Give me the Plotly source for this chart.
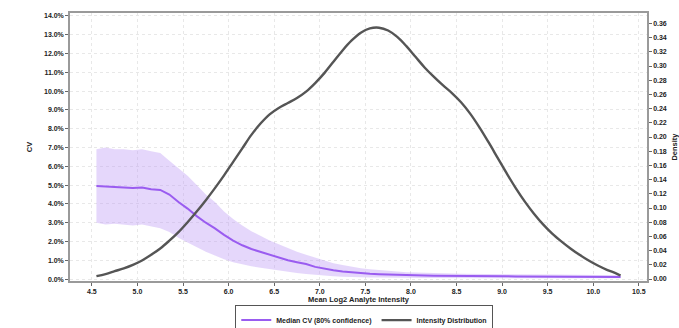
import plotly.graph_objects as go

# Mean log2 analyte intensity (bin centres)
intensity = [4.55, 4.65, 4.75, 4.85, 4.95, 5.05, 5.15, 5.25, 5.35, 5.45,
             5.55, 5.65, 5.75, 5.85, 5.95, 6.05, 6.15, 6.25, 6.35, 6.45,
             6.55, 6.65, 6.75, 6.85, 6.95, 7.05, 7.15, 7.25, 7.35, 7.45,
             7.55, 7.65, 7.75, 7.85, 7.95, 8.05, 8.15, 8.25, 8.35, 8.45,
             8.55, 8.65, 8.75, 8.85, 8.95, 9.05, 9.15, 9.25, 9.35, 9.45,
             9.55, 9.65, 9.75, 9.85, 9.95, 10.05, 10.15, 10.25, 10.30]

# Median CV (%) and its confidence band
cv_median = [4.95, 4.93, 4.90, 4.88, 4.85, 4.87, 4.78, 4.74, 4.50, 4.10,
             3.75, 3.35, 3.00, 2.70, 2.35, 2.05, 1.80, 1.60, 1.45, 1.30,
             1.15, 1.00, 0.90, 0.80, 0.65, 0.55, 0.47, 0.40, 0.35, 0.31,
             0.28, 0.26, 0.24, 0.22, 0.21, 0.20, 0.19, 0.18, 0.18, 0.17,
             0.17, 0.16, 0.16, 0.15, 0.15, 0.15, 0.14, 0.14, 0.14, 0.13,
             0.13, 0.13, 0.12, 0.12, 0.12, 0.12, 0.11, 0.11, 0.11]
cv_upper = [6.90, 7.00, 6.90, 6.90, 6.85, 6.90, 6.80, 6.70, 6.30, 5.90,
            5.50, 5.00, 4.50, 4.10, 3.60, 3.20, 2.85, 2.55, 2.30, 2.05,
            1.85, 1.65, 1.45, 1.30, 1.15, 1.00, 0.85, 0.75, 0.65, 0.58,
            0.52, 0.47, 0.43, 0.40, 0.37, 0.35, 0.33, 0.32, 0.31, 0.30,
            0.29, 0.28, 0.28, 0.27, 0.27, 0.26, 0.26, 0.25, 0.25, 0.24,
            0.24, 0.23, 0.23, 0.22, 0.22, 0.21, 0.21, 0.20, 0.20]
cv_lower = [3.00, 2.90, 2.95, 2.90, 2.85, 2.90, 2.80, 2.70, 2.50, 2.20,
            1.95, 1.70, 1.45, 1.25, 1.05, 0.90, 0.78, 0.68, 0.60, 0.52,
            0.45, 0.38, 0.32, 0.27, 0.22, 0.18, 0.15, 0.12, 0.10, 0.09,
            0.08, 0.08, 0.07, 0.07, 0.07, 0.06, 0.06, 0.06, 0.06, 0.05,
            0.05, 0.05, 0.05, 0.05, 0.05, 0.05, 0.04, 0.04, 0.04, 0.04,
            0.04, 0.04, 0.04, 0.04, 0.04, 0.04, 0.04, 0.04, 0.04]

# Kernel density of mean log2 intensity
density = [0.004, 0.007, 0.011, 0.015, 0.020, 0.026, 0.034, 0.043, 0.054, 0.066,
           0.080, 0.095, 0.111, 0.128, 0.146, 0.165, 0.184, 0.203, 0.219, 0.232,
           0.241, 0.248, 0.255, 0.264, 0.276, 0.290, 0.306, 0.322, 0.336, 0.347,
           0.353, 0.354, 0.350, 0.341, 0.328, 0.313, 0.298, 0.285, 0.273, 0.262,
           0.249, 0.233, 0.214, 0.193, 0.171, 0.149, 0.128, 0.109, 0.092, 0.077,
           0.064, 0.053, 0.043, 0.034, 0.026, 0.019, 0.013, 0.008, 0.005]

x_ticks = [4.5, 5.0, 5.5, 6.0, 6.5, 7.0, 7.5, 8.0, 8.5, 9.0, 9.5, 10.0, 10.5]
cv_ticks = list(range(0, 15))
density_ticks = [round(0.02 * i, 2) for i in range(19)]

PURPLE = "#9a5cf0"
BAND = "rgba(186,150,245,0.38)"
GREY = "#555555"
TXT = "#222222"
FAMILY = "Liberation Sans, Arial, sans-serif"
tick_font = dict(family=FAMILY, size=7, color=TXT, weight="bold")
title_font = dict(family=FAMILY, size=7.5, color=TXT, weight="bold")

fig = go.Figure()

# Confidence band (lower edge, then upper edge filled down to it)
fig.add_trace(go.Scatter(x=intensity, y=cv_lower, mode="lines",
                         line=dict(width=0, color=BAND), showlegend=False,
                         hoverinfo="skip", yaxis="y"))
fig.add_trace(go.Scatter(x=intensity, y=cv_upper, mode="lines", fill="tonexty",
                         fillcolor=BAND, line=dict(width=0, color=BAND),
                         showlegend=False, hoverinfo="skip", yaxis="y"))
fig.add_trace(go.Scatter(x=intensity, y=cv_median, mode="lines",
                         name="Median CV (80% confidence)",
                         line=dict(color=PURPLE, width=2), yaxis="y"))
fig.add_trace(go.Scatter(x=intensity, y=density, mode="lines",
                         name="Intensity Distribution", line_shape="spline",
                         line=dict(color=GREY, width=2.4), yaxis="y2"))

axis_common = dict(showline=True, linecolor="#9a9a9a", linewidth=1.5,
                   ticks="outside", ticklen=3, tickcolor="#666", tickfont=tick_font,
                   zeroline=False)

fig.update_layout(
    width=679, height=328,
    margin=dict(l=70, r=32, t=13, b=47, autoexpand=False),
    paper_bgcolor="white", plot_bgcolor="white",
    xaxis=dict(range=[4.26, 10.59], tickvals=x_ticks,
               ticktext=[f"{v:.1f}" for v in x_ticks],
               showgrid=True, gridcolor="#e8e8e8", griddash="dot", gridwidth=1,
               mirror=True,
               title=dict(text="Mean Log2 Analyte Intensity", font=title_font, standoff=1),
               **axis_common),
    yaxis=dict(range=[-0.1, 14.15], tickvals=cv_ticks,
               ticktext=[f"{v:.1f}%" for v in cv_ticks],
               showgrid=True, gridcolor="#e8e8e8", griddash="dot", gridwidth=1,
               title=dict(text="CV", font=title_font, standoff=10),
               **axis_common),
    yaxis2=dict(range=[-0.0028, 0.3747], tickvals=density_ticks,
                ticktext=[f"{v:.2f}" for v in density_ticks],
                overlaying="y", side="right", showgrid=False,
                title=dict(text="Density", font=title_font, standoff=8),
                **axis_common),
    legend=dict(orientation="h", traceorder="normal",
                x=0.51, xanchor="center", y=-0.088, yanchor="top",
                bordercolor="#555", borderwidth=1,
                font=dict(family=FAMILY, size=7, color=TXT, weight="bold"),
                itemwidth=30, tracegroupgap=0),
)

fig.write_html("out.html")
